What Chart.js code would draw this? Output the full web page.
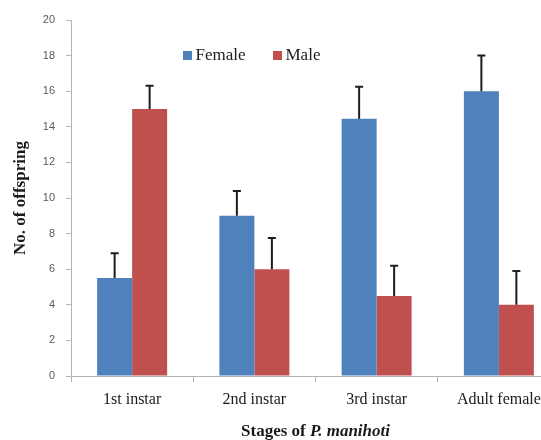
<!DOCTYPE html>
<html>
<head>
<meta charset="utf-8">
<script src="https://cdn.jsdelivr.net/npm/chart.js@4.4.1/dist/chart.umd.min.js"></script>
<style>
  html, body { margin: 0; padding: 0; background: #ffffff; overflow: hidden; width: 541px; height: 440px; }
  #wrap { position: absolute; left: 0; top: 0; width: 562px; height: 440px; }
</style>
</head>
<body>
<div id="wrap"><canvas id="c" width="562" height="440"></canvas></div>
<script>
const categories = ['1st instar', '2nd instar', '3rd instar', 'Adult female'];
const seriesNames = ['Female', 'Male'];
const femaleValues = [5.5, 9.0, 14.45, 16.0];
const maleValues = [15.0, 6.0, 4.5, 4.0];
const femaleErrors = [1.4, 1.4, 1.8, 2.0];
const maleErrors = [1.3, 1.75, 1.7, 1.9];
const yMin = 0, yMax = 20, yStep = 2;
const yTitle = 'No. of offspring';
const xTitleParts = ['Stages of ', 'P. manihoti'];

const BLUE = '#4F81BD';
const RED = '#C0504D';
const AXIS = '#b4b4b4';

const errorBarPlugin = {
  id: 'errorBars',
  afterDatasetsDraw(chart) {
    const ctx = chart.ctx;
    const y = chart.scales.y;
    ctx.save();
    ctx.strokeStyle = '#1e1e1e';
    ctx.lineWidth = 2;
    chart.data.datasets.forEach((ds, i) => {
      const meta = chart.getDatasetMeta(i);
      meta.data.forEach((el, j) => {
        const top = y.getPixelForValue(ds.data[j] + ds.errors[j]);
        const base = y.getPixelForValue(ds.data[j]);
        ctx.beginPath();
        ctx.moveTo(el.x, base);
        ctx.lineTo(el.x, top);
        ctx.moveTo(el.x - 4, top);
        ctx.lineTo(el.x + 4, top);
        ctx.stroke();
      });
    });
    ctx.restore();
  }
};

const legendPlugin = {
  id: 'customLegend',
  afterDraw(chart) {
    const ctx = chart.ctx;
    const xs = [183, 273];
    ctx.save();
    ctx.font = '17px "Liberation Serif", "Times New Roman", serif';
    ctx.textBaseline = 'middle';
    ctx.textAlign = 'left';
    chart.data.datasets.forEach((ds, i) => {
      ctx.fillStyle = ds.backgroundColor;
      ctx.fillRect(xs[i], 51, 9, 9);
      ctx.fillStyle = '#1a1a1a';
      ctx.fillText(ds.label, xs[i] + 12.5, 55.5);
    });
    ctx.restore();
  }
};

const xTitlePlugin = {
  id: 'xTitle',
  afterDraw(chart) {
    const ctx = chart.ctx;
    const a = chart.chartArea;
    ctx.save();
    const f1 = 'bold 17px "Liberation Serif", "Times New Roman", serif';
    const f2 = 'italic bold 17px "Liberation Serif", "Times New Roman", serif';
    ctx.font = f1; const w1 = ctx.measureText(xTitleParts[0]).width;
    ctx.font = f2; const w2 = ctx.measureText(xTitleParts[1]).width;
    const cx = (a.left + a.right) / 2;
    let x = cx - (w1 + w2) / 2;
    const yy = 432;
    ctx.textBaseline = 'middle';
    ctx.textAlign = 'left';
    ctx.fillStyle = '#1a1a1a';
    ctx.font = f1; ctx.fillText(xTitleParts[0], x, yy);
    ctx.font = f2; ctx.fillText(xTitleParts[1], x + w1, yy);
    ctx.restore();
  }
};

new Chart(document.getElementById('c'), {
  type: 'bar',
  data: {
    labels: categories,
    datasets: [
      { label: seriesNames[0], data: femaleValues, errors: femaleErrors, backgroundColor: BLUE, borderWidth: 0 },
      { label: seriesNames[1], data: maleValues, errors: maleErrors, backgroundColor: RED, borderWidth: 0 }
    ]
  },
  options: {
    responsive: false,
    devicePixelRatio: 1,
    animation: false,
    categoryPercentage: 0.5726,
    barPercentage: 1.0,
    layout: { padding: { top: 20, right: 2, left: 0, bottom: 0 } },
    plugins: { legend: { display: false }, tooltip: { enabled: false } },
    scales: {
      x: {
        afterFit(scale) { scale.height = 64; },
        grid: { display: true, offset: true, drawOnChartArea: false, drawTicks: true, tickLength: 6, color: AXIS, lineWidth: 1 },
        border: { display: true, color: AXIS, width: 1 },
        ticks: { color: '#1a1a1a', padding: 8, maxRotation: 0, font: { family: '"Liberation Serif", "Times New Roman", serif', size: 16 } }
      },
      y: {
        min: yMin, max: yMax,
        afterFit(scale) { scale.width = 71; },
        grid: { display: true, drawOnChartArea: false, drawTicks: true, tickLength: 5, color: AXIS, lineWidth: 1 },
        border: { display: true, color: AXIS, width: 1 },
        ticks: { stepSize: yStep, color: '#595959', padding: 11, font: { family: '"Liberation Sans", Arial, sans-serif', size: 11 } },
        title: { display: true, text: yTitle, color: '#1a1a1a', padding: { top: 10, bottom: 0 }, font: { family: '"Liberation Serif", "Times New Roman", serif', size: 17, weight: 'bold', lineHeight: 1.2 } }
      }
    }
  },
  plugins: [errorBarPlugin, legendPlugin, xTitlePlugin]
});
</script>
</body>
</html>
